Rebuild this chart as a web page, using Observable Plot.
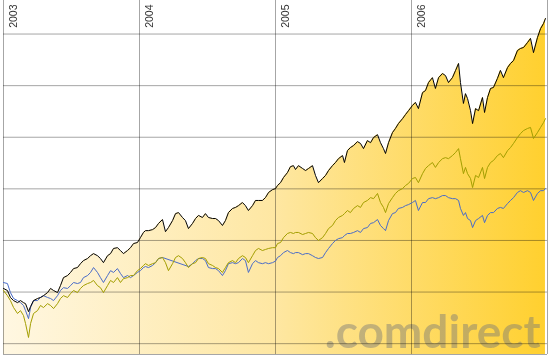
<!DOCTYPE html>
<html>
<head>
<meta charset="utf-8">
<script src="https://cdn.jsdelivr.net/npm/d3@7"></script>
<script src="https://cdn.jsdelivr.net/npm/@observablehq/plot@0.6"></script>
<style>
  html, body { margin: 0; padding: 0; background: #fff; }
  #chart svg { display: block; }
</style>
</head>
<body>
<div id="chart"></div>
<script>
// time in decimal years
const years = [
  2003.000, 2003.029, 2003.051, 2003.074, 2003.103, 2003.125, 2003.147, 2003.162, 2003.184, 2003.199,
  2003.221, 2003.250, 2003.272, 2003.294, 2003.324, 2003.346, 2003.368, 2003.397, 2003.419, 2003.441,
  2003.471, 2003.493, 2003.515, 2003.544, 2003.566, 2003.588, 2003.618, 2003.640, 2003.662, 2003.691,
  2003.713, 2003.735, 2003.765, 2003.787, 2003.809, 2003.838, 2003.860, 2003.882, 2003.912, 2003.934,
  2003.956, 2003.985, 2004.007, 2004.029, 2004.044, 2004.066, 2004.096, 2004.118, 2004.140, 2004.169,
  2004.191, 2004.213, 2004.243, 2004.265, 2004.287, 2004.316, 2004.338, 2004.360, 2004.390, 2004.412,
  2004.434, 2004.463, 2004.485, 2004.507, 2004.537, 2004.559, 2004.581, 2004.610, 2004.632, 2004.654,
  2004.684, 2004.706, 2004.728, 2004.757, 2004.779, 2004.801, 2004.831, 2004.853, 2004.875, 2004.904,
  2004.926, 2004.949, 2004.978, 2005.000, 2005.015, 2005.037, 2005.059, 2005.088, 2005.110, 2005.132,
  2005.147, 2005.169, 2005.199, 2005.221, 2005.243, 2005.272, 2005.294, 2005.316, 2005.346, 2005.368,
  2005.390, 2005.419, 2005.441, 2005.463, 2005.493, 2005.507, 2005.529, 2005.551, 2005.574, 2005.603,
  2005.625, 2005.647, 2005.676, 2005.699, 2005.721, 2005.750, 2005.772, 2005.794, 2005.809, 2005.831,
  2005.860, 2005.882, 2005.904, 2005.934, 2005.956, 2005.978, 2006.007, 2006.029, 2006.051, 2006.081,
  2006.103, 2006.125, 2006.154, 2006.176, 2006.199, 2006.228, 2006.250, 2006.272, 2006.301, 2006.324,
  2006.346, 2006.360, 2006.382, 2006.397, 2006.412, 2006.434, 2006.449, 2006.471, 2006.493, 2006.522,
  2006.537, 2006.559, 2006.581, 2006.603, 2006.632, 2006.654, 2006.676, 2006.706, 2006.728, 2006.750,
  2006.779, 2006.801, 2006.824, 2006.853, 2006.875, 2006.897, 2006.926, 2006.949, 2006.971, 2006.985
];

// indexed performance, start = 100
const blackSeries = [
  101.4, 100.6, 97.9, 96.7, 95.9, 96.7, 95.9, 95.5, 92.4, 94.4,
  96.7, 97.5, 97.9, 98.6, 99.8, 101.4, 100.6, 99.8, 102.5, 105.6,
  106.4, 107.6, 109.1, 109.5, 111.0, 112.2, 113.0, 114.1, 114.9, 114.1,
  113.0, 111.4, 114.1, 114.9, 116.9, 117.2, 116.1, 114.9, 116.1, 117.2,
  118.8, 119.2, 121.1, 123.1, 123.8, 123.8, 124.2, 125.0, 126.6, 128.1,
  123.4, 125.0, 127.7, 130.4, 130.8, 128.9, 127.7, 124.6, 126.6, 128.5,
  129.7, 128.9, 130.4, 128.9, 128.5, 128.5, 127.7, 125.8, 127.7, 130.8,
  132.4, 132.8, 133.5, 134.7, 133.5, 131.6, 133.5, 135.5, 135.5, 135.5,
  136.6, 138.6, 139.7, 140.1, 141.3, 142.4, 144.4, 146.3, 148.6, 149.0,
  147.5, 149.0, 147.9, 147.1, 147.9, 149.0, 145.2, 142.4, 144.0, 145.2,
  147.1, 149.0, 150.2, 151.7, 152.9, 150.2, 154.8, 156.0, 156.8, 158.3,
  157.6, 155.6, 158.7, 157.9, 159.9, 161.0, 157.9, 155.6, 153.7, 157.9,
  161.8, 163.4, 165.3, 167.2, 168.8, 170.3, 172.3, 173.5, 171.1, 177.3,
  178.1, 181.2, 183.1, 178.9, 183.1, 184.7, 183.9, 181.2, 183.1, 185.9,
  188.6, 181.2, 173.1, 176.9, 175.0, 170.3, 165.3, 171.1, 170.3, 175.4,
  169.6, 175.4, 178.9, 179.3, 182.8, 185.9, 183.1, 187.0, 188.6, 189.7,
  193.6, 194.4, 194.8, 196.7, 198.3, 192.8, 198.6, 202.1, 204.1, 206.0
];

const oliveSeries = [
  100.6, 98.6, 96.7, 94.0, 91.7, 92.8, 90.9, 87.8, 82.4, 87.8,
  91.7, 92.8, 94.8, 94.0, 95.5, 94.8, 93.6, 95.5, 97.5, 98.6,
  97.9, 99.4, 100.6, 99.8, 101.4, 102.5, 103.3, 103.7, 104.5, 102.5,
  101.7, 99.8, 102.5, 104.5, 103.7, 105.6, 103.7, 105.2, 105.6, 106.4,
  106.4, 108.3, 109.1, 110.3, 111.0, 110.3, 111.0, 111.4, 113.0, 113.4,
  111.4, 108.3, 111.0, 113.4, 114.1, 113.0, 111.4, 109.5, 111.0, 111.4,
  113.0, 113.4, 113.0, 111.0, 110.3, 109.5, 109.1, 107.6, 109.5, 111.4,
  112.2, 111.4, 113.0, 114.1, 113.4, 111.4, 114.1, 116.1, 116.9, 116.1,
  116.5, 116.9, 117.2, 117.2, 118.8, 119.2, 121.1, 122.7, 123.1, 122.7,
  123.1, 123.1, 122.3, 122.7, 123.1, 122.7, 121.1, 120.0, 121.1, 122.7,
  124.6, 125.8, 127.7, 128.9, 129.7, 130.4, 131.6, 130.8, 132.4, 133.5,
  132.8, 134.7, 135.5, 136.6, 136.2, 138.2, 134.7, 132.8, 130.8, 134.3,
  136.6, 138.2, 139.3, 140.1, 141.3, 142.1, 144.0, 144.4, 142.4, 145.9,
  147.9, 149.0, 150.2, 148.3, 150.2, 151.7, 152.1, 151.7, 152.9, 154.1,
  155.6, 151.7, 145.9, 148.3, 145.9, 144.0, 140.5, 145.2, 144.4, 148.3,
  144.0, 148.3, 150.2, 151.0, 152.9, 153.7, 152.1, 154.8, 156.0, 157.6,
  159.9, 161.4, 162.6, 163.4, 163.8, 159.5, 161.8, 163.8, 165.7, 167.2
];

// null = no quote (line bridges the gap)
const blueSeries = [
  103.7, 103.3, 99.8, 97.5, 96.7, 95.9, 94.8, 92.8, 89.7, 94.0,
  96.7, 96.7, 97.9, 98.6, 97.9, 97.5, 96.7, 98.6, 100.6, 101.7,
  101.4, 102.5, 103.7, 103.3, 103.7, 105.6, 106.4, 107.6, 109.5, 107.6,
  105.6, 103.7, 106.4, 108.3, 107.6, 109.1, 107.2, 105.6, 106.4, 105.6,
  106.4, 107.6, 108.3, 109.5, 109.9, 109.5, 110.3, 111.4, 113.0, 113.4,
  null, null, null, null, null, null, null, 109.9, 111.0, 112.2,
  113.0, 113.0, 112.2, 109.5, 109.1, 109.1, 108.3, 106.4, 108.3, 111.0,
  111.4, 111.0, 111.4, 113.0, 112.2, 107.6, 111.0, 112.2, 111.4, 111.0,
  111.4, 111.0, 111.4, 112.0, 113.4, 114.1, 115.3, 116.1, 115.3, 114.9,
  115.3, 115.3, 114.5, 114.9, 114.9, 114.1, 113.4, 113.0, 113.4, 115.3,
  116.9, 118.8, 120.0, 120.7, 121.1, 121.9, 122.7, 122.7, 123.1, 123.8,
  123.1, 124.6, 125.0, 126.6, 126.9, 128.1, 125.8, 124.6, 123.8, 127.7,
  130.4, 130.8, 132.4, 132.8, 133.5, 133.9, 134.7, 135.5, 131.6, 134.7,
  134.7, 136.2, 136.6, 136.2, 136.6, 137.4, 137.4, 136.6, 136.2, 136.2,
  135.5, 132.4, 129.7, 130.8, 128.5, 127.7, 125.0, 127.7, 128.5, 129.7,
  126.9, 129.7, 130.8, 130.8, 132.4, 132.8, 132.4, 134.3, 135.5, 136.6,
  138.6, 139.3, 138.6, 139.3, 138.6, 135.5, 138.2, 139.3, 139.3, 140.1
];

const yearTicks = [2003, 2004, 2005, 2006];
const gridValues = [80, 100, 120, 140, 160, 180, 200];
const watermark = [".comdirect"];

const xDomain = [2003, 2007];
const yDomain = [75.8, 213];

const rows = years.map((t, i) => ({t, black: blackSeries[i], olive: oliveSeries[i], blue: blueSeries[i]}));
const blueRows = rows.filter(d => d.blue != null);

const plot = Plot.plot({
  width: 550,
  height: 357,
  marginTop: 0,
  marginLeft: 3,
  marginRight: 3,
  marginBottom: 3,
  x: {domain: xDomain, axis: null},
  y: {domain: yDomain, axis: null},
  style: {background: "#ffffff", fontFamily: "Arial, 'Liberation Sans', sans-serif", overflow: "visible"},
  marks: [
    Plot.areaY(rows, {x: "t", y1: yDomain[0], y2: "black", fill: "url(#cdGrad)"}),
    Plot.text(watermark, {
      text: d => d, frameAnchor: "bottom-right", textAnchor: "end", lineAnchor: "bottom",
      dx: -7, dy: -7, fontSize: 46, fontWeight: "bold", fontFamily: "Lato, 'Open Sans', sans-serif",
      fill: "#787878", fillOpacity: 0.45
    }),
    Plot.ruleY(gridValues, {stroke: "#a6a6a6", strokeWidth: 1}),
    Plot.ruleY([yDomain[0]], {stroke: "#a6a6a6", strokeWidth: 1}),
    Plot.ruleX([...yearTicks, xDomain[1]], {stroke: "#a6a6a6", strokeWidth: 1}),
    Plot.text(yearTicks, {
      x: d => d, text: d => String(d), frameAnchor: "top", rotate: -90, textAnchor: "end",
      dx: 6, dy: 4, fontSize: 10.5, fill: "#333333"
    }),
    Plot.line(blueRows, {x: "t", y: "blue", stroke: "#4a6cc8", strokeWidth: 1}),
    Plot.line(rows, {x: "t", y: "olive", stroke: "#a39e00", strokeWidth: 1}),
    Plot.line(rows, {x: "t", y: "black", stroke: "#000000", strokeWidth: 1})
  ]
});

// horizontal gradient for the filled area
const xs = plot.scale("x");
const svg = d3.select(plot);
const defs = svg.insert("defs", ":first-child");
const grad = defs.append("linearGradient")
  .attr("id", "cdGrad")
  .attr("gradientUnits", "userSpaceOnUse")
  .attr("x1", xs.apply(xDomain[0])).attr("x2", xs.apply(xDomain[1]))
  .attr("y1", 0).attr("y2", 0);
grad.append("stop").attr("offset", 0).attr("stop-color", "#fff7e2");
grad.append("stop").attr("offset", 0.5).attr("stop-color", "#fee7a2");
grad.append("stop").attr("offset", 1).attr("stop-color", "#ffd02e");

// grid lines darken the fill where they cross it
svg.selectAll('g[aria-label="rule"]').style("mix-blend-mode", "multiply");

document.getElementById("chart").appendChild(plot);
</script>
</body>
</html>
